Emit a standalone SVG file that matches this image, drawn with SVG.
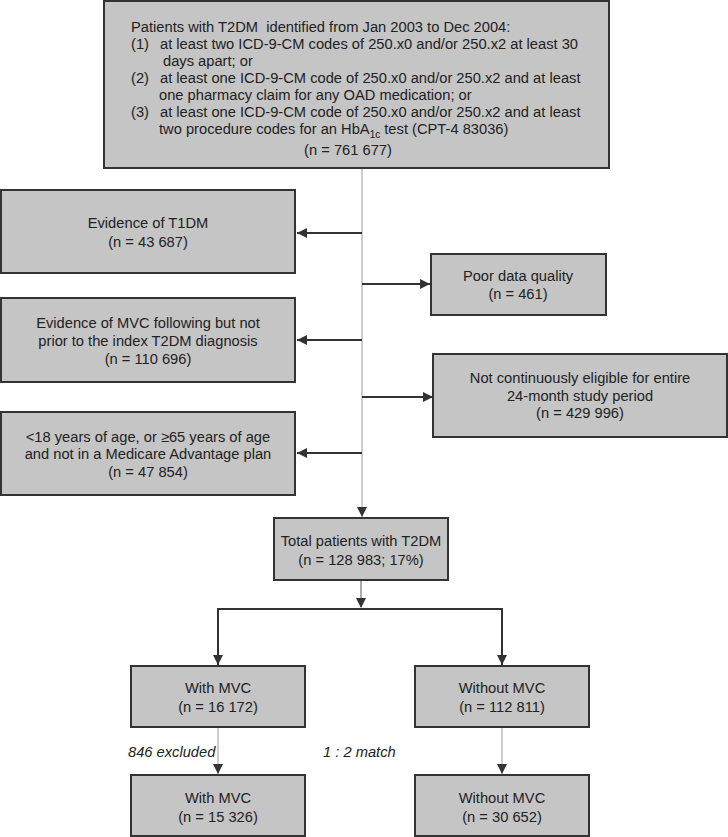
<svg xmlns="http://www.w3.org/2000/svg" width="728" height="837" viewBox="0 0 728 837">
<style>
.box{fill:#c5c5c5;stroke:#333;stroke-width:2}
text{font-family:"Liberation Sans",Arial,sans-serif;font-size:14.7px;fill:#222}
.c{text-anchor:middle}
.it{font-style:italic}
.dk{stroke:#333;stroke-width:2;fill:none}
.lt{stroke:#999;stroke-width:1;fill:none}
.gr{stroke:#aaa;stroke-width:2;fill:none}
</style>
<defs>
<marker id="ah" viewBox="0 0 10 10" refX="10" refY="5" markerWidth="10" markerHeight="10" markerUnits="userSpaceOnUse" orient="auto">
<path d="M0,0 L10,5 L0,10 z" fill="#333"/>
</marker>
</defs>
<g id="connectors">
<path class="lt" d="M362,168 V517" marker-end="url(#ah)"/>
<path class="dk" d="M362,233 H297" marker-end="url(#ah)"/>
<path class="dk" d="M362,284 H430" marker-end="url(#ah)"/>
<path class="dk" d="M362,340 H297" marker-end="url(#ah)"/>
<path class="dk" d="M362,397 H433" marker-end="url(#ah)"/>
<path class="dk" d="M362,453 H297" marker-end="url(#ah)"/>
<path class="gr" d="M361,581 V607"/>
<path d="M356,598 L366,598 L361,608 z" fill="#333"/>
<path class="dk" d="M218,665 V609 H502 V665" />
<path d="M213,655 L223,655 L218,665 z" fill="#333"/>
<path d="M497,655 L507,655 L502,665 z" fill="#333"/>
<path class="lt" d="M218,728 V774" marker-end="url(#ah)"/>
<path class="lt" d="M502,728 V774" marker-end="url(#ah)"/>
</g>
<g id="n_top">
<rect class="box" x="104" y="1" width="505" height="167"/>
<text x="131" y="32">Patients with T2DM&#160; identified from Jan 2003 to Dec 2004:</text>
<text x="131" y="49">(1)</text><text x="160" y="49">at least two ICD-9-CM codes of 250.x0 and/or 250.x2 at least 30</text>
<text x="163" y="66">days apart; or</text>
<text x="131" y="83">(2)</text><text x="160" y="83">at least one ICD-9-CM code of 250.x0 and/or 250.x2 and at least</text>
<text x="159" y="100">one pharmacy claim for any OAD medication; or</text>
<text x="131" y="117">(3)</text><text x="160" y="117">at least one ICD-9-CM code of 250.x0 and/or 250.x2 and at least</text>
<text x="159" y="134">two procedure codes for an HbA<tspan font-size="10" dy="4">1c</tspan><tspan dy="-4"> test (CPT-4 83036)</tspan></text>
<text class="c" x="348" y="155">(n = 761 677)</text>
</g>
<g id="n_t1dm">
<rect class="box" x="1" y="190" width="294" height="83"/>
<text class="c" x="148" y="228">Evidence of T1DM</text>
<text class="c" x="148" y="247">(n = 43 687)</text>
</g>
<g id="n_poor">
<rect class="box" x="431" y="254" width="175" height="61"/>
<text class="c" x="518" y="281">Poor data quality</text>
<text class="c" x="518" y="299">(n = 461)</text>
</g>
<g id="n_mvc_after">
<rect class="box" x="1" y="298" width="294" height="84"/>
<text class="c" x="148" y="328">Evidence of MVC following but not</text>
<text class="c" x="148" y="346">prior to the index T2DM diagnosis</text>
<text class="c" x="148" y="364">(n = 110 696)</text>
</g>
<g id="n_elig">
<rect class="box" x="433" y="354" width="294" height="83"/>
<text class="c" x="580" y="383">Not continuously eligible for entire</text>
<text class="c" x="580" y="401">24-month study period</text>
<text class="c" x="580" y="418">(n = 429 996)</text>
</g>
<g id="n_age">
<rect class="box" x="1" y="412" width="294" height="83"/>
<text class="c" x="148" y="442">&lt;18 years of age, or ≥65 years of age</text>
<text class="c" x="148" y="459">and not in a Medicare Advantage plan</text>
<text class="c" x="148" y="477">(n = 47 854)</text>
</g>
<g id="n_total">
<rect class="box" x="274" y="518" width="174" height="62"/>
<text class="c" x="361" y="546">Total patients with T2DM</text>
<text class="c" x="361" y="565">(n = 128 983; 17%)</text>
</g>
<g id="n_with1">
<rect class="box" x="131" y="666" width="174" height="61"/>
<text class="c" x="218" y="693">With MVC</text>
<text class="c" x="218" y="712">(n = 16 172)</text>
</g>
<g id="n_without1">
<rect class="box" x="415" y="666" width="174" height="61"/>
<text class="c" x="502" y="693">Without MVC</text>
<text class="c" x="502" y="712">(n = 112 811)</text>
</g>
<g id="n_with2">
<rect class="box" x="131" y="775" width="174" height="61"/>
<text class="c" x="218" y="803">With MVC</text>
<text class="c" x="218" y="822">(n = 15 326)</text>
</g>
<g id="n_without2">
<rect class="box" x="415" y="775" width="174" height="61"/>
<text class="c" x="502" y="803">Without MVC</text>
<text class="c" x="502" y="822">(n = 30 652)</text>
</g>
<g id="labels">
<text class="it" x="128" y="757">846 excluded</text>
<text class="it" x="323" y="757">1 : 2 match</text>
</g>
</svg>
